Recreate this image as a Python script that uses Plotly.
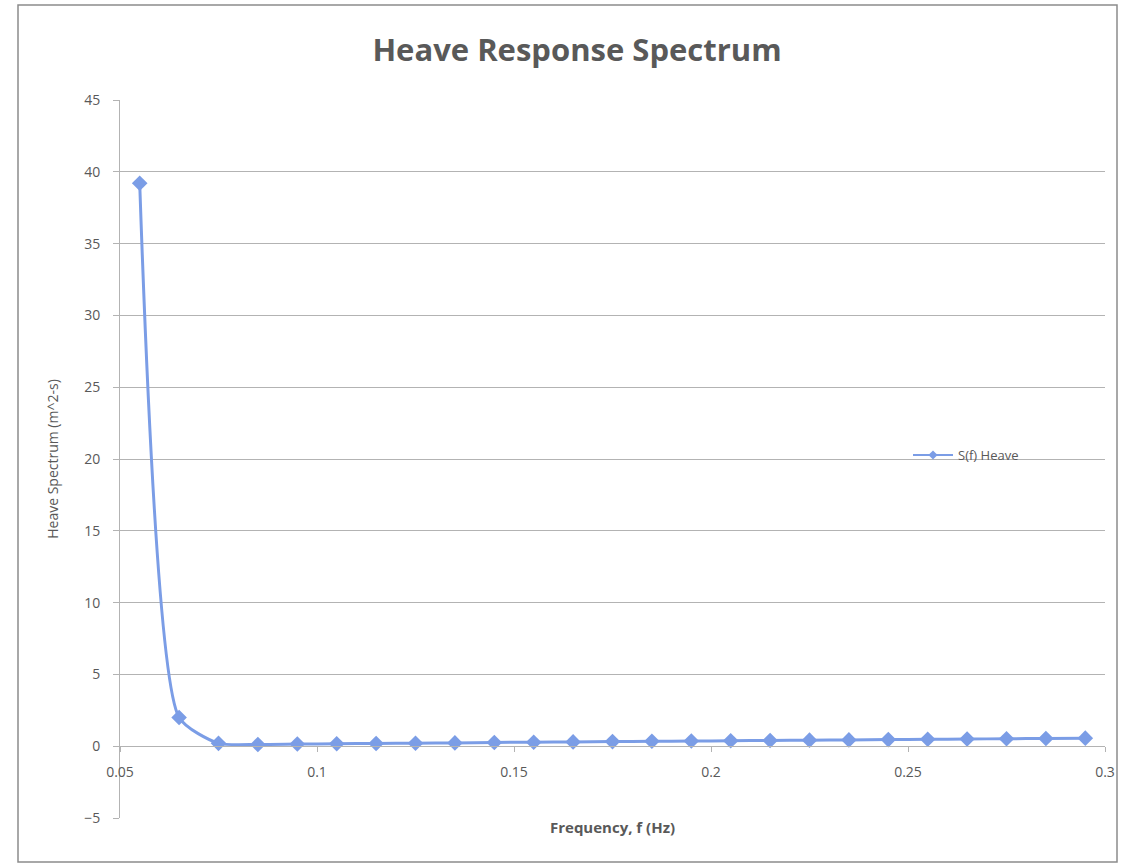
import plotly.graph_objects as go

# Data
freq = [0.055, 0.065, 0.075, 0.085, 0.095, 0.105, 0.115, 0.125, 0.135, 0.145,
        0.155, 0.165, 0.175, 0.185, 0.195, 0.205, 0.215, 0.225, 0.235, 0.245,
        0.255, 0.265, 0.275, 0.285, 0.295]
s_heave = [39.2, 2.0, 0.2, 0.12, 0.15, 0.17, 0.19, 0.21, 0.23, 0.26,
           0.28, 0.3, 0.32, 0.34, 0.36, 0.38, 0.4, 0.42, 0.44, 0.46,
           0.48, 0.5, 0.52, 0.54, 0.56]
x_ticks = [0.05, 0.1, 0.15, 0.2, 0.25, 0.3]
x_ticktext = ["0.05", "0.1", "0.15", "0.2", "0.25", "0.3"]
y_ticks = [-5, 0, 5, 10, 15, 20, 25, 30, 35, 40, 45]
series_name = "S(f) Heave"

FONT = "'Open Sans', Lato, sans-serif"
TXT = "#595959"
BLUE = "#7b9de6"
GRID = "#b3b3b3"

fig = go.Figure()
fig.add_trace(go.Scatter(
    x=freq, y=s_heave, name=series_name, showlegend=False,
    mode="lines+markers",
    line=dict(color=BLUE, width=3, shape="spline", smoothing=0.6),
    marker=dict(symbol="diamond", size=12, color=BLUE),
))
# legend entry (Excel-style small marker)
fig.add_trace(go.Scatter(
    x=[None], y=[None], name=series_name, showlegend=True,
    mode="lines+markers",
    line=dict(color=BLUE, width=2),
    marker=dict(symbol="diamond", size=7, color=BLUE),
))

L, R, T, B = 120, 24, 100, 48
W, H = 1129, 866
pw, ph = W - L - R, H - T - B

fig.update_layout(
    width=W, height=H,
    margin=dict(l=L, r=R, t=T, b=B, autoexpand=False),
    paper_bgcolor="white", plot_bgcolor="white",
    font=dict(family=FONT, color=TXT, size=13),
    title=dict(text="<b>Heave Response Spectrum</b>", x=577 / W, xanchor="center",
               y=1 - 50 / H, yanchor="middle",
               font=dict(size=31, color=TXT, family=FONT)),
    showlegend=True,
    legend=dict(x=(908 - L) / pw, xanchor="left", y=(T + ph - 455) / ph, yanchor="middle",
                bgcolor="rgba(0,0,0,0)", font=dict(size=13, color=TXT, family=FONT),
                itemwidth=40),
    xaxis=dict(
        range=[0.05, 0.3], tickvals=x_ticks, ticktext=x_ticktext,
        showgrid=False, zeroline=False,
        showline=True, linecolor=GRID, linewidth=1,
        ticks="outside", ticklen=5, tickcolor=GRID,
        anchor="free", position=0.1,
        ticklabelstandoff=8,
        tickfont=dict(size=14, color=TXT),
        title=dict(text="<b>Frequency, f (Hz)</b>", font=dict(size=15, color=TXT), standoff=42),
        automargin=False,
    ),
    yaxis=dict(
        range=[-5, 45], tickvals=y_ticks,
        showgrid=True, gridcolor=GRID, gridwidth=1,
        zeroline=False,
        showline=True, linecolor=GRID, linewidth=1,
        ticks="outside", ticklen=6, tickcolor=GRID,
        ticklabelstandoff=10,
        tickfont=dict(size=14, color=TXT),
        title=dict(text="Heave Spectrum (m^2-s)", font=dict(size=14, color=TXT), standoff=22),
        automargin=False,
    ),
)

# chart-area border
fig.add_shape(type="rect", xref="paper", yref="paper",
              x0=(18 - L) / pw, x1=(1117 - L) / pw,
              y0=(T + ph - 862) / ph, y1=(T + ph - 5) / ph,
              line=dict(color="#8c8c8c", width=1.5), layer="below")

fig.write_html("out.html")
